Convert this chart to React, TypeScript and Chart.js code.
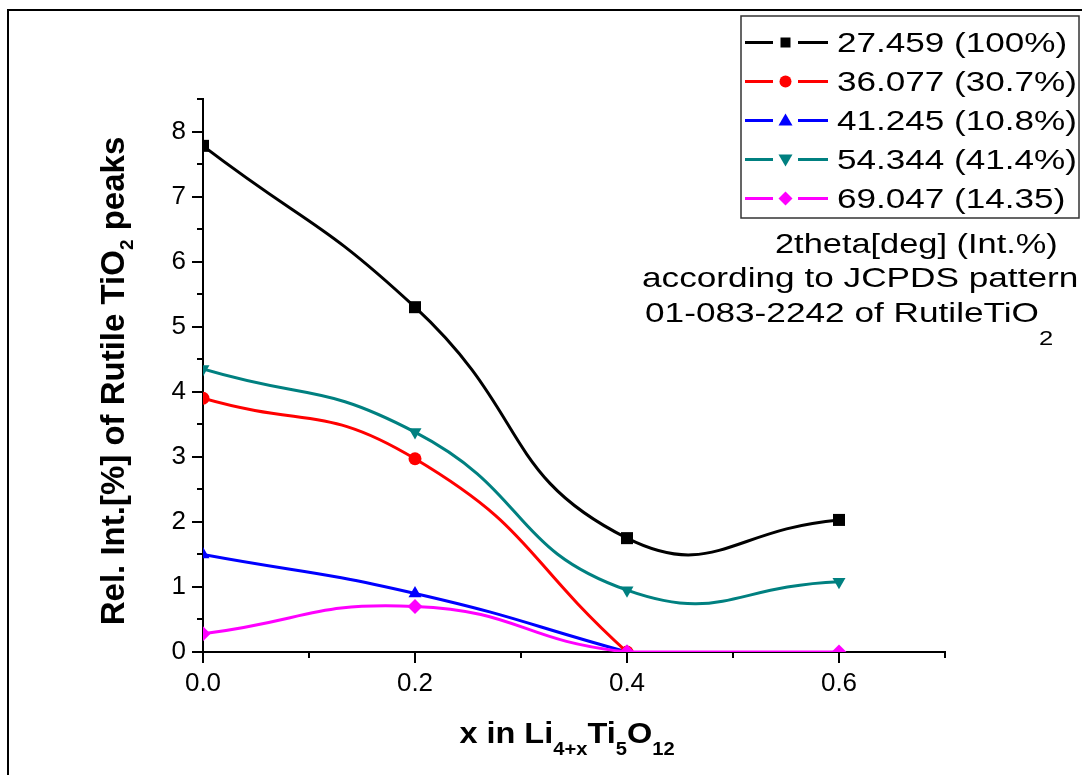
import React, { useEffect, useRef } from "react";
import { Chart, registerables } from "chart.js";

Chart.register(...registerables);

// ---- data ----
const xValues = [0.0, 0.2, 0.4, 0.6];
const peak27459 = [7.78, 5.3, 1.75, 2.03];
const peak36077 = [3.9, 2.97, 0.0];
const peak41245 = [1.5, 0.9, 0.0];
const peak54344 = [4.35, 3.38, 0.95, 1.08];
const peak69047 = [0.28, 0.7, 0.0, 0.0];

const seriesLabels = [
  "27.459 (100%)",
  "36.077 (30.7%)",
  "41.245 (10.8%)",
  "54.344 (41.4%)",
  "69.047 (14.35)",
];
const seriesValues = [peak27459, peak36077, peak41245, peak54344, peak69047];
const seriesColors = ["#000000", "#ff0000", "#0000ff", "#008080", "#ff00ff"];
const seriesMarkers = ["square", "circle", "up", "down", "diamond"];

const xTickValues = [0.0, 0.2, 0.4, 0.6];
const xMinorValues = [0.1, 0.3, 0.5, 0.7];
const yTickValues = [0, 1, 2, 3, 4, 5, 6, 7, 8];
const yMinorValues = [0.5, 1.5, 2.5, 3.5, 4.5, 5.5, 6.5, 7.5, 8.5];

const noteLines = [
  "2theta[deg] (Int.%)",
  "according to JCPDS pattern",
  "01-083-2242 of RutileTiO",
];

const FAMILY = '"Liberation Sans", Arial, Helvetica, sans-serif';

type Seg = { t: string; size: number; bold?: boolean; dy?: number };

function fontOf(s: Seg) {
  return `${s.bold ? "bold " : ""}${s.size}px ${FAMILY}`;
}

function segsWidth(ctx: CanvasRenderingContext2D, segs: Seg[]) {
  let w = 0;
  for (const s of segs) {
    ctx.font = fontOf(s);
    w += ctx.measureText(s.t).width;
  }
  return w;
}

function drawSegs(
  ctx: CanvasRenderingContext2D,
  segs: Seg[],
  x: number,
  y: number,
  sx: number
) {
  ctx.save();
  ctx.translate(x, y);
  ctx.scale(sx, 1);
  ctx.textBaseline = "alphabetic";
  ctx.textAlign = "left";
  let cx = 0;
  for (const s of segs) {
    ctx.font = fontOf(s);
    ctx.fillText(s.t, cx, s.dy || 0);
    cx += ctx.measureText(s.t).width;
  }
  ctx.restore();
}

function drawMarker(
  ctx: CanvasRenderingContext2D,
  kind: string,
  x: number,
  y: number,
  color: string
) {
  ctx.save();
  ctx.fillStyle = color;
  ctx.beginPath();
  if (kind === "square") {
    ctx.rect(x - 5, y - 5, 10, 10);
  } else if (kind === "circle") {
    ctx.arc(x, y, 6, 0, Math.PI * 2);
  } else if (kind === "up") {
    ctx.moveTo(x, y - 7);
    ctx.lineTo(x + 7, y + 5);
    ctx.lineTo(x - 7, y + 5);
    ctx.closePath();
  } else if (kind === "down") {
    ctx.moveTo(x, y + 7);
    ctx.lineTo(x + 7, y - 5);
    ctx.lineTo(x - 7, y - 5);
    ctx.closePath();
  } else {
    ctx.moveTo(x, y - 7);
    ctx.lineTo(x + 7, y);
    ctx.lineTo(x, y + 7);
    ctx.lineTo(x - 7, y);
    ctx.closePath();
  }
  ctx.fill();
  ctx.restore();
}

const overlayPlugin = {
  id: "overlay",
  afterDraw(chart: any) {
    const ctx: CanvasRenderingContext2D = chart.ctx;
    const xs = chart.scales.x;
    const ys = chart.scales.y;
    const area = chart.chartArea;

    ctx.save();
    ctx.fillStyle = "#000";
    ctx.strokeStyle = "#000";

    // minor ticks
    ctx.lineWidth = 2;
    ctx.beginPath();
    for (const v of xMinorValues) {
      const px = Math.round(xs.getPixelForValue(v));
      ctx.moveTo(px, area.bottom);
      ctx.lineTo(px, area.bottom + 6);
    }
    for (const v of yMinorValues) {
      const py = Math.round(ys.getPixelForValue(v));
      ctx.moveTo(area.left, py);
      ctx.lineTo(area.left - 6, py);
    }
    ctx.stroke();

    // outer frame
    ctx.lineWidth = 2;
    ctx.strokeRect(8, 10, 1200, 900);

    // legend box
    ctx.lineWidth = 1.5;
    ctx.strokeStyle = "#333";
    ctx.strokeRect(741, 16, 338, 202);
    for (let i = 0; i < seriesLabels.length; i++) {
      const base = 52 + 39 * i;
      const cy = base - 9.5;
      ctx.strokeStyle = seriesColors[i];
      ctx.lineWidth = 3;
      ctx.beginPath();
      ctx.moveTo(745, cy);
      ctx.lineTo(773, cy);
      ctx.moveTo(798, cy);
      ctx.lineTo(828, cy);
      ctx.stroke();
      drawMarker(ctx, seriesMarkers[i], 785.5, cy, seriesColors[i]);
      ctx.fillStyle = "#000";
      drawSegs(ctx, [{ t: seriesLabels[i], size: 27 }], 837, base, 1.3);
    }

    // annotation
    ctx.fillStyle = "#000";
    drawSegs(ctx, [{ t: noteLines[0], size: 27.5 }], 775, 253, 1.25);
    drawSegs(ctx, [{ t: noteLines[1], size: 27.5 }], 642, 287, 1.28);
    drawSegs(
      ctx,
      [
        { t: noteLines[2], size: 27.5 },
        { t: "2", size: 20, dy: 23 },
      ],
      645,
      322,
      1.28
    );

    // x title
    const xTitle: Seg[] = [
      { t: "x in Li", size: 29, bold: true },
      { t: "4+x", size: 18, bold: true, dy: 12 },
      { t: "Ti", size: 29, bold: true },
      { t: "5", size: 18, bold: true, dy: 12 },
      { t: "O", size: 29, bold: true },
      { t: "12", size: 18, bold: true, dy: 12 },
    ];
    const xsx = 1.12;
    const xw = segsWidth(ctx, xTitle) * xsx;
    drawSegs(ctx, xTitle, 567 - xw / 2, 743, xsx);

    // y title (rotated)
    const yTitle: Seg[] = [
      { t: "Rel. Int.[%] of Rutile TiO", size: 33, bold: true },
      { t: "2", size: 19, bold: true, dy: 9 },
      { t: " peaks", size: 33, bold: true },
    ];
    const yw = segsWidth(ctx, yTitle);
    ctx.save();
    ctx.translate(124, 381);
    ctx.rotate(-Math.PI / 2);
    drawSegs(ctx, yTitle, -yw / 2, 0, 1);
    ctx.restore();

    ctx.restore();
  },
};

export default function App() {
  const ref = useRef<HTMLCanvasElement | null>(null);

  useEffect(() => {
    const canvas = ref.current;
    if (!canvas) return;

    const pointStyles: any[] = ["rect", "circle", "triangle", "triangle", "rectRot"];
    const pointRotations = [0, 0, 0, 180, 0];
    const pointRadii = [8.5, 6.5, 7.5, 7.5, 7.5];
    const orders = [1, 2, 3, 2, 0];

    const datasets = seriesValues.map((vals, i) => ({
      label: seriesLabels[i],
      data: vals.map((y, j) => ({ x: xValues[j], y })),
      borderColor: seriesColors[i],
      backgroundColor: seriesColors[i],
      borderWidth: 3,
      tension: 0.5,
      pointStyle: pointStyles[i],
      rotation: pointRotations[i],
      pointRadius: pointRadii[i],
      pointBorderWidth: 0,
      pointBackgroundColor: seriesColors[i],
      pointBorderColor: seriesColors[i],
      order: orders[i],
      fill: false,
    }));

    const gridOpts = {
      display: true,
      drawOnChartArea: false,
      drawTicks: true,
      tickLength: 11,
      color: "#000",
      lineWidth: 2,
    };

    const chart = new Chart(canvas, {
      type: "line",
      data: { datasets },
      options: {
        animation: false,
        responsive: true,
        maintainAspectRatio: false,
        layout: { padding: { top: 99, right: 137, left: 0, bottom: 0 } },
        plugins: {
          legend: { display: false },
          tooltip: { enabled: false },
        },
        scales: {
          x: {
            type: "linear",
            min: 0,
            max: 0.7,
            afterFit: (s: any) => {
              s.height = 123;
            },
            afterBuildTicks: (s: any) => {
              s.ticks = xTickValues.map((v) => ({ value: v }));
            },
            ticks: {
              stepSize: 0.2,
              includeBounds: false,
              autoSkip: false,
              maxRotation: 0,
              color: "#000",
              padding: 5,
              font: { size: 26, family: FAMILY },
              callback: (v: any) => Number(v).toFixed(1),
            },
            grid: gridOpts,
            border: { display: true, color: "#000", width: 2 },
          },
          y: {
            type: "linear",
            min: 0,
            max: 8.5,
            afterFit: (s: any) => {
              s.width = 203;
            },
            afterBuildTicks: (s: any) => {
              s.ticks = yTickValues.map((v) => ({ value: v }));
            },
            ticks: {
              stepSize: 1,
              includeBounds: false,
              autoSkip: false,
              color: "#000",
              padding: 6,
              font: { size: 26, family: FAMILY },
              callback: (v: any) => String(v),
            },
            grid: gridOpts,
            border: { display: true, color: "#000", width: 2 },
          },
        },
      } as any,
      plugins: [overlayPlugin],
    });

    return () => {
      chart.destroy();
    };
  }, []);

  return (
    <div
      style={{
        position: "absolute",
        left: 0,
        top: 0,
        width: 1082,
        height: 775,
        background: "#ffffff",
      }}
    >
      <canvas ref={ref} />
    </div>
  );
}
